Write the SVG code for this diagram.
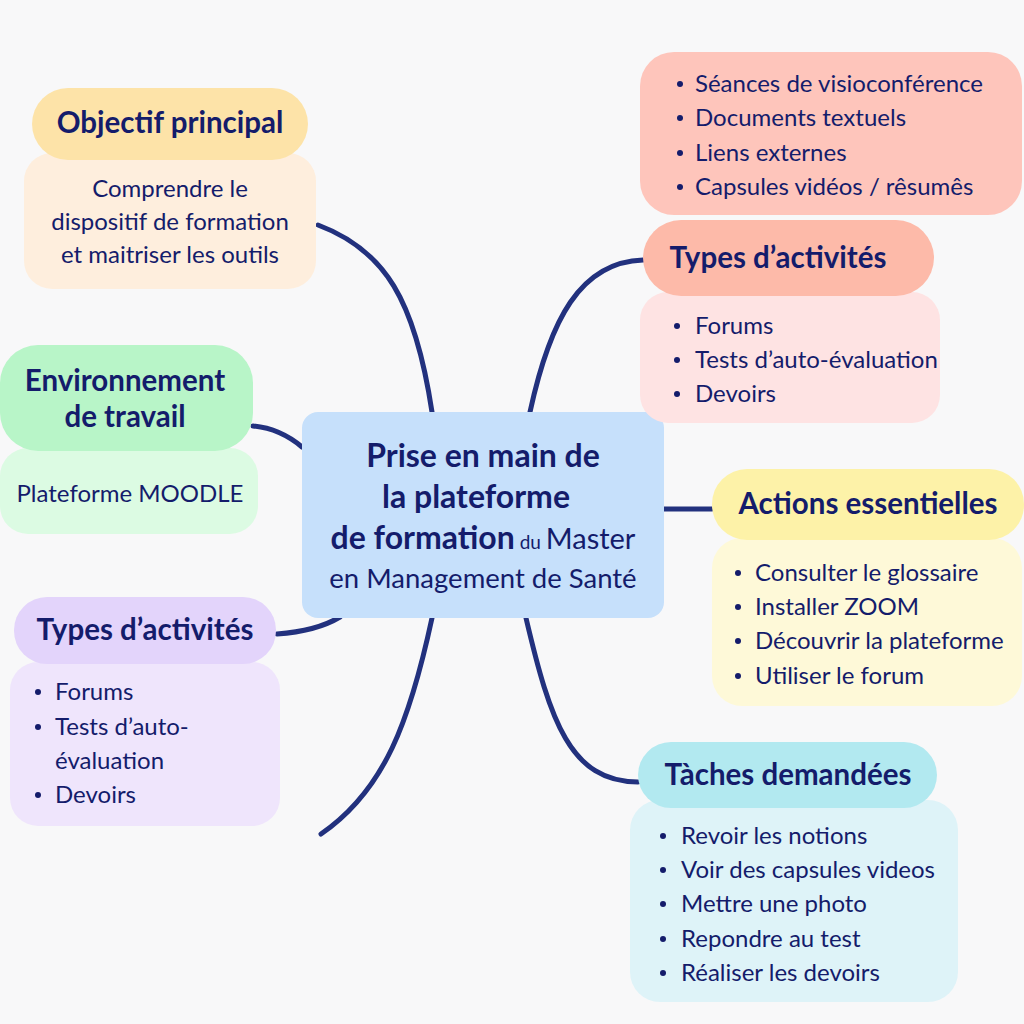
<svg xmlns="http://www.w3.org/2000/svg" width="1024" height="1024" viewBox="0 0 1024 1024">
<style>
text{font-family:Lato,"Open Sans","DejaVu Sans",sans-serif;fill:#141c6b}
.h{font-weight:700;font-size:29.5px;text-anchor:middle}
.c{font-weight:700;font-size:32px;text-anchor:middle}
.b{font-size:24px}
.m{font-size:24px;text-anchor:middle}
.bul{fill:#141c6b}
.con{fill:none;stroke:#22317e;stroke-width:5;stroke-linecap:round}
</style>
<rect width="1024" height="1024" fill="#f8f8f9"/>
<g id="connectors">
<path class="con" d="M318,225 C385,250 415,300 432,412"/>
<path class="con" d="M253,426 C275,428 290,437 302,447"/>
<path class="con" d="M277,634 C305,632 325,626 340,617"/>
<path class="con" d="M432,618 C410,720 385,790 321,834"/>
<path class="con" d="M530,412 C550,320 580,262 643,260"/>
<path class="con" d="M664,509 L712,509"/>
<path class="con" d="M526,618 C550,720 570,782 638,782"/>
</g>
<g id="objectif">
<rect x="24" y="153" width="292" height="136" rx="28" fill="#feeedd"/>
<rect x="32" y="88" width="276" height="72" rx="36" fill="#fde3a8"/>
<text class="h" x="170" y="133">Objectif principal</text>
<text class="m" x="170" y="197">Comprendre le</text>
<text class="m" x="170" y="230">dispositif de formation</text>
<text class="m" x="170" y="263">et maitriser les outils</text>
</g>
<g id="environnement">
<rect x="0" y="448" width="258" height="86" rx="28" fill="#dcfbe3"/>
<rect x="0" y="345" width="253" height="106" rx="38" fill="#b8f5c8"/>
<text class="h" x="125" y="391">Environnement</text>
<text class="h" x="125" y="427">de travail</text>
<text class="m" x="130" y="502">Plateforme MOODLE</text>
</g>
<g id="types-gauche">
<rect x="10" y="662" width="270" height="164" rx="28" fill="#efe5fc"/>
<rect x="14" y="597" width="262" height="67" rx="33" fill="#e3d4fb"/>
<text class="h" x="145" y="640">Types d’activités</text>
<circle class="bul" cx="38" cy="692" r="3"/><text class="b" x="55" y="700">Forums</text>
<circle class="bul" cx="38" cy="727" r="3"/><text class="b" x="55" y="735">Tests d’auto-</text>
<text class="b" x="55" y="769">évaluation</text>
<circle class="bul" cx="38" cy="795" r="3"/><text class="b" x="55" y="803">Devoirs</text>
</g>
<g id="centre">
<rect x="302" y="412" width="362" height="206" rx="16" fill="#c6e0fb"/>
<text class="c" x="483" y="467">Prise en main de</text>
<text class="c" x="476" y="508">la plateforme</text>
<text x="483" y="549" style="font-size:29px;text-anchor:middle"><tspan font-weight="700" font-size="32">de formation</tspan><tspan font-size="19"> du </tspan><tspan>Master</tspan></text>
<text x="483" y="588" style="font-size:27.5px;text-anchor:middle">en Management de Santé</text>
</g>
<g id="ressources">
<rect x="640" y="52" width="382" height="163" rx="34" fill="#fec5bb"/>
<circle class="bul" cx="680" cy="84" r="3"/><text class="b" x="695" y="92">Séances de visioconférence</text>
<circle class="bul" cx="680" cy="118" r="3"/><text class="b" x="695" y="126">Documents textuels</text>
<circle class="bul" cx="680" cy="153" r="3"/><text class="b" x="695" y="161">Liens externes</text>
<circle class="bul" cx="680" cy="187" r="3"/><text class="b" x="695" y="195">Capsules vidéos / rêsumês</text>
</g>
<g id="types-droite">
<rect x="640" y="292" width="300" height="131" rx="28" fill="#fee3e3"/>
<rect x="643" y="220" width="291" height="76" rx="38" fill="#fdbaa9"/>
<text class="h" x="778" y="268">Types d’activités</text>
<circle class="bul" cx="677" cy="326" r="3"/><text class="b" x="695" y="334">Forums</text>
<circle class="bul" cx="677" cy="360" r="3"/><text class="b" x="695" y="368">Tests d’auto-évaluation</text>
<circle class="bul" cx="677" cy="394" r="3"/><text class="b" x="695" y="402">Devoirs</text>
</g>
<g id="actions">
<rect x="712" y="538" width="310" height="168" rx="30" fill="#fef9d8"/>
<rect x="712" y="469" width="312" height="71" rx="35" fill="#fdf2a8"/>
<text class="h" x="868" y="514">Actions essentielles</text>
<circle class="bul" cx="738" cy="573" r="3"/><text class="b" x="755" y="581">Consulter le glossaire</text>
<circle class="bul" cx="738" cy="607" r="3"/><text class="b" x="755" y="615">Installer ZOOM</text>
<circle class="bul" cx="738" cy="641" r="3"/><text class="b" x="755" y="649">Découvrir la plateforme</text>
<circle class="bul" cx="738" cy="676" r="3"/><text class="b" x="755" y="684">Utiliser le forum</text>
</g>
<g id="taches">
<rect x="630" y="800" width="328" height="202" rx="30" fill="#def3f8"/>
<rect x="638" y="742" width="299" height="66" rx="33" fill="#b2e9f0"/>
<text class="h" x="788" y="785">Tàches demandées</text>
<circle class="bul" cx="663" cy="836" r="3"/><text class="b" x="681" y="844">Revoir les notions</text>
<circle class="bul" cx="663" cy="870" r="3"/><text class="b" x="681" y="878">Voir des capsules videos</text>
<circle class="bul" cx="663" cy="904" r="3"/><text class="b" x="681" y="912">Mettre une photo</text>
<circle class="bul" cx="663" cy="939" r="3"/><text class="b" x="681" y="947">Repondre au test</text>
<circle class="bul" cx="663" cy="973" r="3"/><text class="b" x="681" y="981">Réaliser les devoirs</text>
</g>
</svg>
